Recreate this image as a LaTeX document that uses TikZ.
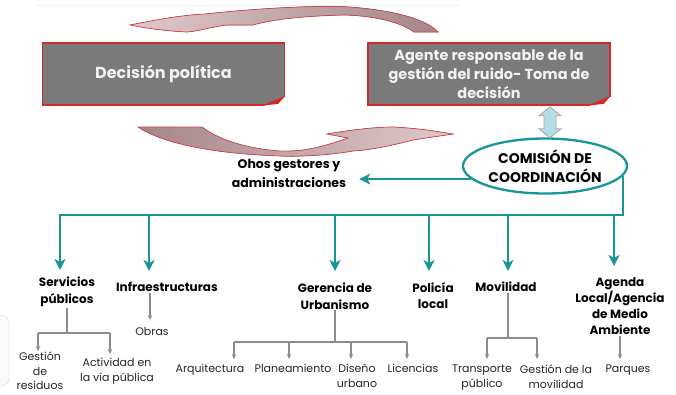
\documentclass[tikz,border=0pt]{standalone}
\usepackage{fontspec}
\setmainfont{Poppins}
\usetikzlibrary{shapes.geometric, arrows.meta}

\definecolor{boxgray}{RGB}{122,122,122}
\definecolor{boxred}{RGB}{214,40,40}
\definecolor{tealline}{RGB}{24,150,150}
\definecolor{subgray}{RGB}{140,140,140}
\definecolor{linkblue}{RGB}{180,221,230}
\definecolor{mauvedark}{RGB}{164,134,138}
\definecolor{mauvelight}{RGB}{224,200,202}
\definecolor{arrowred}{RGB}{206,70,72}

\tikzset{
    box/.style = {draw = boxred, line width = 1.6pt, fill = boxgray, text = white!95!black, minimum width = 242, minimum height = 62, align = center},
    cycarrow/.style = {draw = arrowred, line width = 0.7pt},
    mainline/.style = {draw = tealline, line width = 2.3pt},
    mainarrow/.style = {mainline, -{Stealth[length = 11pt, width = 11pt, inset = 3pt]}},
    subline/.style = {draw = subgray, line width = 1.3pt},
    subarrow/.style = {subline, -{Stealth[length = 5pt, width = 4.5pt]}},
    toplabel/.style = {align = center, inner sep = 1pt, font = \bfseries\fontsize{12}{16.3}\selectfont},
    sublabel/.style = {align = center, inner sep = 1pt, text = black!85, font = \fontsize{11}{14.5}\selectfont}
}

\begin{document}
\begin{tikzpicture}[x = 1pt, y = -1pt]
    \useasboundingbox (0, 0) rectangle (676, 394);
    \draw[gray!30, fill = gray!4, rounded corners = 8pt] (-20, 315) rectangle (9, 386);
    \draw[gray!12, line width = 1pt] (37, 5) -- (460, 5);

    % ciclo de decision
    \node[box, font = \bfseries\fontsize{16}{18}\selectfont] (decision) at (163.5, 74) {Decisión política};
    \node[box, font = \bfseries\fontsize{14.5}{19}\selectfont] (agente) at (489, 74) {Agente responsable de la\\gestión del ruido- Toma de\\decisión};
    \foreach \n in {decision, agente} {
        \fill[white] ([xshift = 1.5pt, yshift = -1.5pt]\n.south east) -- ++(-26, 0) -- ++(26, -11) -- cycle;
        \fill[boxred] (\n.south east) ++(-24, 0) -- ++(24, -10) -- ++(-7, 8) -- cycle;
    }

    \filldraw[cycarrow, left color = mauvelight, right color = mauvedark]
        (130, 25) .. controls (165, 18) and (185, 15) .. (205, 14)
        .. controls (260, 8) and (320, 5) .. (350, 7)
        .. controls (390, 10) and (425, 18) .. (438, 32)
        -- (414, 32)
        .. controls (400, 22) and (375, 16) .. (345, 15)
        .. controls (300, 16) and (270, 20) .. (253, 25)
        -- (227, 25)
        .. controls (210, 27) and (200, 31) .. (187, 32)
        .. controls (165, 31) and (145, 28) .. (130, 25) -- cycle;
    \filldraw[cycarrow, left color = mauvedark, right color = mauvelight]
        (138, 127) -- (202, 127)
        .. controls (215, 137) and (240, 148) .. (280, 151)
        .. controls (305, 152) and (325, 146) .. (348, 138)
        -- (327, 134)
        .. controls (350, 130) and (375, 127) .. (393, 127)
        .. controls (415, 128) and (435, 131) .. (453, 134)
        .. controls (440, 136) and (425, 138) .. (413, 140)
        .. controls (390, 146) and (370, 150) .. (353, 151)
        .. controls (330, 155) and (300, 157) .. (280, 156)
        .. controls (220, 154) and (165, 145) .. (138, 127) -- cycle;

    % comision
    \node[ellipse, draw = tealline, line width = 2.3pt, minimum width = 164, minimum height = 55, inner sep = 0pt, align = center, font = \bfseries\fontsize{14}{19}\selectfont] (comision) at (545, 166) {COMISIÓN DE\\COORDINACIÓN};
    \path (agente.south) ++(61, 1) coordinate (ltop);
    \filldraw[draw = gray!70, fill = linkblue, line width = 0.8pt] (ltop) -- ++(11, 9) -- ++(-5, 0) -- ++(0, 13) -- ++(5, 0) -- ++(-11, 9) -- ++(-11, -9) -- ++(5, 0) -- ++(0, -13) -- ++(-5, 0) -- cycle;

    \node[toplabel, font = \bfseries\fontsize{12.5}{19}\selectfont] (otros) at (289, 173) {Ohos gestores y\\administraciones};
    \draw[mainarrow] (comision.190) -- (comision.190 -| otros.east) [shorten > = 12pt];

    % areas
    \node[toplabel, anchor = north] (servicios) at (67, 276) {Servicios\\públicos};
    \node[toplabel, anchor = north] (infra) at (167, 281) {Infraestructuras};
    \node[toplabel, anchor = north] (gerencia) at (335, 282) {Gerencia de\\Urbanismo};
    \node[toplabel, anchor = north] (policia) at (433, 281) {Policía\\local};
    \node[toplabel, anchor = north] (movilidad) at (506, 281) {Movilidad};
    \node[toplabel, anchor = north] (agenda) at (620, 276) {Agenda\\Local/Agencia\\de Medio\\Ambiente};

    \coordinate (bus) at (60, 215);
    \draw[mainarrow, shorten > = 6pt] (comision.-7) |- (bus) -- (bus |- servicios.north);
    \draw[mainarrow, shorten > = 10pt] ([xshift = -18pt]infra.north |- bus) -- ([xshift = -18pt]infra.north);
    \draw[mainarrow, shorten > = 11pt] (gerencia.north |- bus) -- (gerencia.north);
    \draw[mainarrow, shorten > = 10pt] ([xshift = -4pt]policia.north |- bus) -- ([xshift = -4pt]policia.north);
    \draw[mainarrow, shorten > = 10pt] ([xshift = 2pt]movilidad.north |- bus) -- ([xshift = 2pt]movilidad.north);
    \draw[mainarrow, shorten > = 10pt] ([xshift = -6pt]agenda.north |- bus) -- ([xshift = -6pt]agenda.north);

    % sub areas
    \node[sublabel, anchor = north] (gestion) at (40, 351) {Gestión\\de\\residuos};
    \node[sublabel, anchor = north] (actividad) at (117, 357) {Actividad en\\la vía pública};
    \node[sublabel, anchor = north] (obras) at (152, 326) {Obras};
    \node[sublabel, anchor = north] (arquitectura) at (210, 363) {Arquitectura};
    \node[sublabel, anchor = north] (planeamiento) at (293, 363) {Planeamiento};
    \node[sublabel, anchor = north] (diseno) at (357, 363) {Diseño\\urbano};
    \node[sublabel, anchor = north] (licencias) at (413, 363) {Licencias};
    \node[sublabel, anchor = north] (transporte) at (482, 364) {Transporte\\público};
    \node[sublabel, anchor = north] (gestionmov) at (556, 364) {Gestión de la\\movilidad};
    \node[sublabel, anchor = north] (parques) at (628, 364) {Parques};

    \coordinate (sL) at (38, 333);
    \coordinate (sR) at (110, 333);
    \draw[subline] (servicios.south) -- (servicios.south |- sL);
    \draw[subline] (sL) -- (sR);
    \draw[subarrow] (sL) -- (sL |- gestion.north);
    \draw[subarrow, shorten > = 3pt] (sR) -- (sR |- actividad.north);

    \draw[subarrow, shorten > = 6pt] ([xshift = -2pt]obras.north |- infra.south) -- ([xshift = -2pt]obras.north);

    \coordinate (gL) at (234, 342);
    \coordinate (gR) at (407, 342);
    \draw[subline] (gerencia.south) -- (gerencia.south |- gL);
    \draw[subline] (gL) -- (gR);
    \draw[subarrow, shorten > = 4pt] (gL) -- (gL |- arquitectura.north);
    \draw[subarrow, shorten > = 4pt] ([xshift = -4pt]planeamiento.north |- gL) -- ([xshift = -4pt]planeamiento.north);
    \draw[subarrow, shorten > = 4pt] ([xshift = -6pt]diseno.north |- gL) -- ([xshift = -6pt]diseno.north);
    \draw[subarrow, shorten > = 4pt] (gR) -- (gR |- licencias.north);

    \coordinate (mL) at (487, 338);
    \coordinate (mR) at (537, 338);
    \draw[subline] ([xshift = 2pt]movilidad.south) -- ([xshift = 2pt]movilidad.south |- mL);
    \draw[subline] (mL) -- (mR);
    \draw[subarrow, shorten > = 5pt] (mL) -- (mL |- transporte.north);
    \draw[subarrow, shorten > = 5pt] (mR) -- (mR |- gestionmov.north);

    \draw[subarrow, shorten > = 5pt] (agenda.south) -- (agenda.south |- parques.north);
\end{tikzpicture}
\end{document}
